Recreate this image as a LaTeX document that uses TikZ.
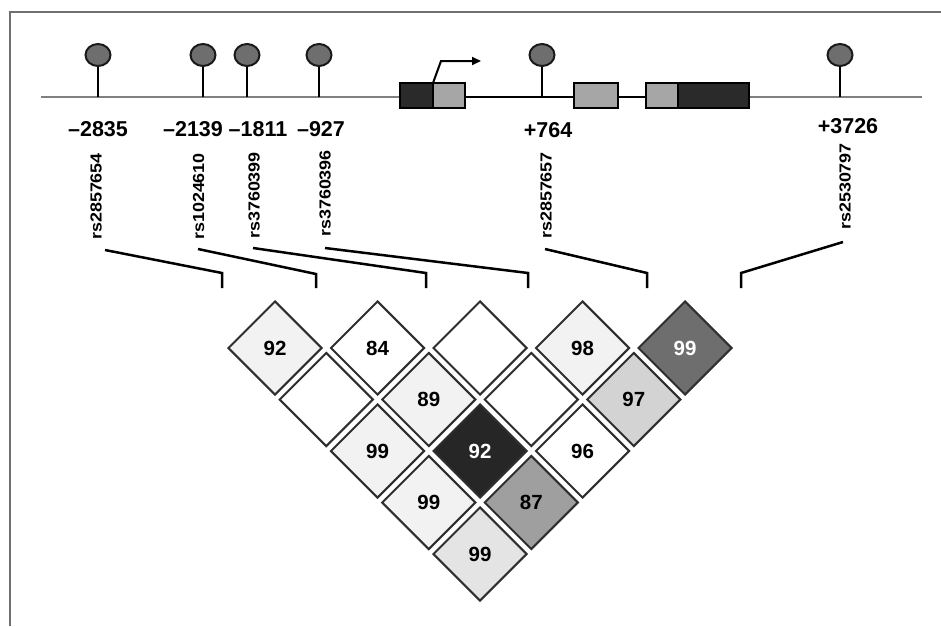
\documentclass[tikz,border=0pt]{standalone}
\usepackage{fontspec}
\setmainfont{Liberation Sans}
\usetikzlibrary{shapes.geometric,arrows.meta}
\definecolor{framegray}{HTML}{707070}
\definecolor{snpgray}{HTML}{6E6E6E}
\definecolor{exonlight}{HTML}{A6A6A6}
\definecolor{exondark}{HTML}{2A2A2A}
\definecolor{cA}{HTML}{F2F2F2}
\definecolor{cB}{HTML}{D3D3D3}
\definecolor{cC}{HTML}{6E6E6E}
\definecolor{cD}{HTML}{262626}
\definecolor{cE}{HTML}{9F9F9F}
\definecolor{cF}{HTML}{E4E4E4}
\begin{document}
\begin{tikzpicture}[x=1pt,y=-1pt,
  ld/.style={shape=diamond, aspect=1, minimum width=94pt, minimum height=94pt,
    inner sep=0pt, draw=black!82, line width=2pt, fill=white,
    font=\fontsize{20.5}{20.5}\selectfont\bfseries},
  ldw/.style={ld, text=white},
  poslbl/.style={font=\fontsize{21.5}{21.5}\selectfont\bfseries, anchor=base, inner sep=0pt},
  rslbl/.style={rotate=90, anchor=west, inner sep=0pt, font=\fontsize{16}{16}\selectfont\bfseries},
  conn/.style={line width=2.5pt, line join=miter},
  snp/.style={ellipse, minimum width=25pt, minimum height=22pt, inner sep=0pt,
    fill=snpgray, draw=black!90, line width=2pt},
  stem/.style={line width=2pt},
  exon/.style={draw=black, line width=2pt},
]
\useasboundingbox (0,0) rectangle (941,626);
\fill[white] (0,0) rectangle (941,626);
% frame
\draw[framegray, line width=2pt] (10,626) -- (10,12) -- (941,12);

% gene line
\coordinate (gL) at (41,97);
\coordinate (gR) at (922,97);
\draw[gray, line width=1.6pt] (gL) -- (gR);
\draw[black, line width=2.4pt] (465,97) -- (574,97);
\draw[black, line width=2.4pt] (618,97) -- (646,97);

% exons
\draw[exon, fill=exondark] (400,83) rectangle (433,108);
\draw[exon, fill=exonlight] (433,83) rectangle (465,108);
\draw[exon, fill=exonlight] (574,83) rectangle (618,108);
\draw[exon, fill=exonlight] (646,83) rectangle (678,108);
\draw[exon, fill=exondark] (678,83) rectangle (749,108);

% TSS arrow
\coordinate (tss) at (433,83);
\coordinate (tssk) at (441,61);
\coordinate (tsse) at (481,61);
\draw[line width=2pt, -{Triangle[length=9pt,width=8pt]}] (tss) -- (tssk) -- (tsse);

% SNP lollipops
\foreach \n/\x in {1/98, 2/203, 3/247, 4/319, 5/542, 6/840}{
  \coordinate (b\n) at (\x,97);
  \node[snp] (s\n) at (\x,55) {};
  \draw[stem] (s\n.south) -- (b\n);
}

% position labels
\node[poslbl] (p1) at (98,136) {–2835};
\node[poslbl] (p2) at (193,136) {–2139};
\node[poslbl] (p3) at (258,136) {–1811};
\node[poslbl] (p4) at (321,136) {–927};
\node[poslbl] (p5) at (548,137) {+764};
\node[poslbl] (p6) at (848,133) {+3726};

% rs labels
\node[rslbl] (r1) at (96,240) {\scalebox{1.12}[1]{rs2857654}};
\node[rslbl] (r2) at (198.5,240) {\scalebox{1.12}[1]{rs1024610}};
\node[rslbl] (r3) at (254,239) {\scalebox{1.12}[1]{rs3760399}};
\node[rslbl] (r4) at (325,237) {\scalebox{1.12}[1]{rs3760396}};
\node[rslbl] (r5) at (546,239) {\scalebox{1.12}[1]{rs2857657}};
\node[rslbl] (r6) at (845,230) {\scalebox{1.12}[1]{rs2530797}};

% connector points
\coordinate (a1) at (105,250); \coordinate (k1) at (222,273); \coordinate (e1) at (222,288);
\coordinate (a2) at (198,249); \coordinate (k2) at (316,274); \coordinate (e2) at (316,288);
\coordinate (a3) at (253,248); \coordinate (k3) at (426,273); \coordinate (e3) at (426,288);
\coordinate (a4) at (325,248); \coordinate (k4) at (528,273); \coordinate (e4) at (528,288);
\coordinate (a5) at (545,249); \coordinate (k5) at (647,273); \coordinate (e5) at (647,288);
\coordinate (a6) at (843,242); \coordinate (k6) at (741,273); \coordinate (e6) at (741,288);
\foreach \n in {1,...,6}{ \draw[conn] (a\n) -- (k\n) -- (e\n); }

% LD diamonds
\node[ld, fill=cA] (d12) at (275,348) {92};
\node[ld] (d23) at (377.5,348) {84};
\node[ld] (d34) at (480,348) {};
\node[ld, fill=cA] (d45) at (582.5,348) {98};
\node[ldw, fill=cC] (d56) at (685,348) {99};
\node[ld] (d13) at (326.25,399.5) {};
\node[ld, fill=cA] (d24) at (428.75,399.5) {89};
\node[ld] (d35) at (531.25,399.5) {};
\node[ld, fill=cB] (d46) at (633.75,399.5) {97};
\node[ld, fill=cA] (d14) at (377.5,451) {99};
\node[ldw, fill=cD] (d25) at (480,451) {92};
\node[ld] (d36) at (582.5,451) {96};
\node[ld, fill=cA] (d15) at (428.75,502.5) {99};
\node[ld, fill=cE] (d26) at (531.25,502.5) {87};
\node[ld, fill=cF] (d16) at (480,554) {99};
\end{tikzpicture}
\end{document}
